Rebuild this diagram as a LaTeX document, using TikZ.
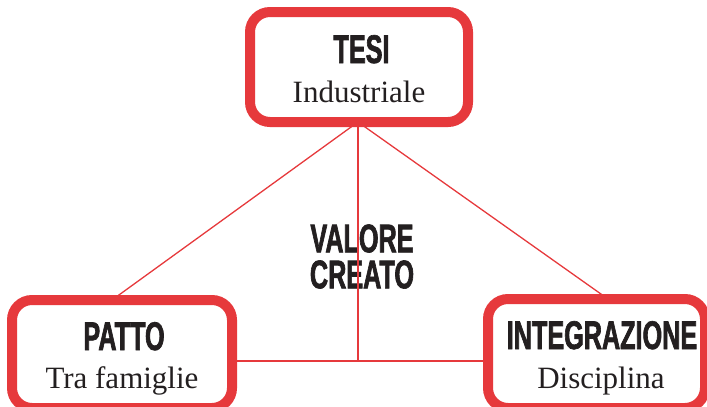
\documentclass[tikz,border=0pt]{standalone}
\usepackage{fontspec}
\setmainfont{Liberation Serif}
\newfontfamily\condbold{Liberation Sans}[FakeStretch=0.63,FakeBold=1.6]
\definecolor{boxred}{RGB}{230,57,60}
\definecolor{ink}{RGB}{35,31,32}
\begin{document}
\begin{tikzpicture}[x=1pt,y=-1pt,
  frame/.style={draw=boxred,line width=10pt,fill=white,rounded corners=20pt,inner sep=0pt},
  title/.style={font=\condbold\bfseries\fontsize{40}{36}\selectfont,text=ink,anchor=base,inner sep=0pt},
  sub/.style={font=\fontsize{31}{31}\selectfont,text=ink,anchor=base,inner sep=0pt},
  link/.style={draw=boxred,line width=1.3pt}]
\useasboundingbox (0,0) rectangle (707,407);
\clip (0,0) rectangle (707,407);

% centre label
\node[title,anchor=center,align=center] (valore) at (362,256.5) {VALORE\\CREATO};

% hub points of the connectors
\coordinate (apex) at (358,122);
\coordinate (hub) at (358,361);
\coordinate (ptop) at (112,300);
\coordinate (itop) at (608,299);

% connectors (drawn below the boxes)
\draw[link] (apex) -- (ptop);
\draw[link] (apex) -- (itop);
\draw[link] (apex) -- (hub);
\draw[link] (12,361) coordinate (lend) -- (705,361) coordinate (rend);

% boxes
\node[frame,minimum width=218pt,minimum height=110pt] (tesi) at (359,67) {};
\node[frame,minimum width=220pt,minimum height=108pt] (patto) at (122,354) {};
\node[frame,minimum width=217pt,minimum height=109pt] (integ) at (596.5,353.5) {};

% box texts
\node[title] (tesiT) at (361.5,63) {TESI};
\node[sub] (tesiS) at (359,102) {Industriale};
\node[title] (pattoT) at (124,350) {PATTO};
\node[sub] (pattoS) at (122,388) {Tra famiglie};
\node[title] (integT) at (602,349) {INTEGRAZIONE};
\node[sub] (integS) at (601,388) {Disciplina};
\end{tikzpicture}
\end{document}
